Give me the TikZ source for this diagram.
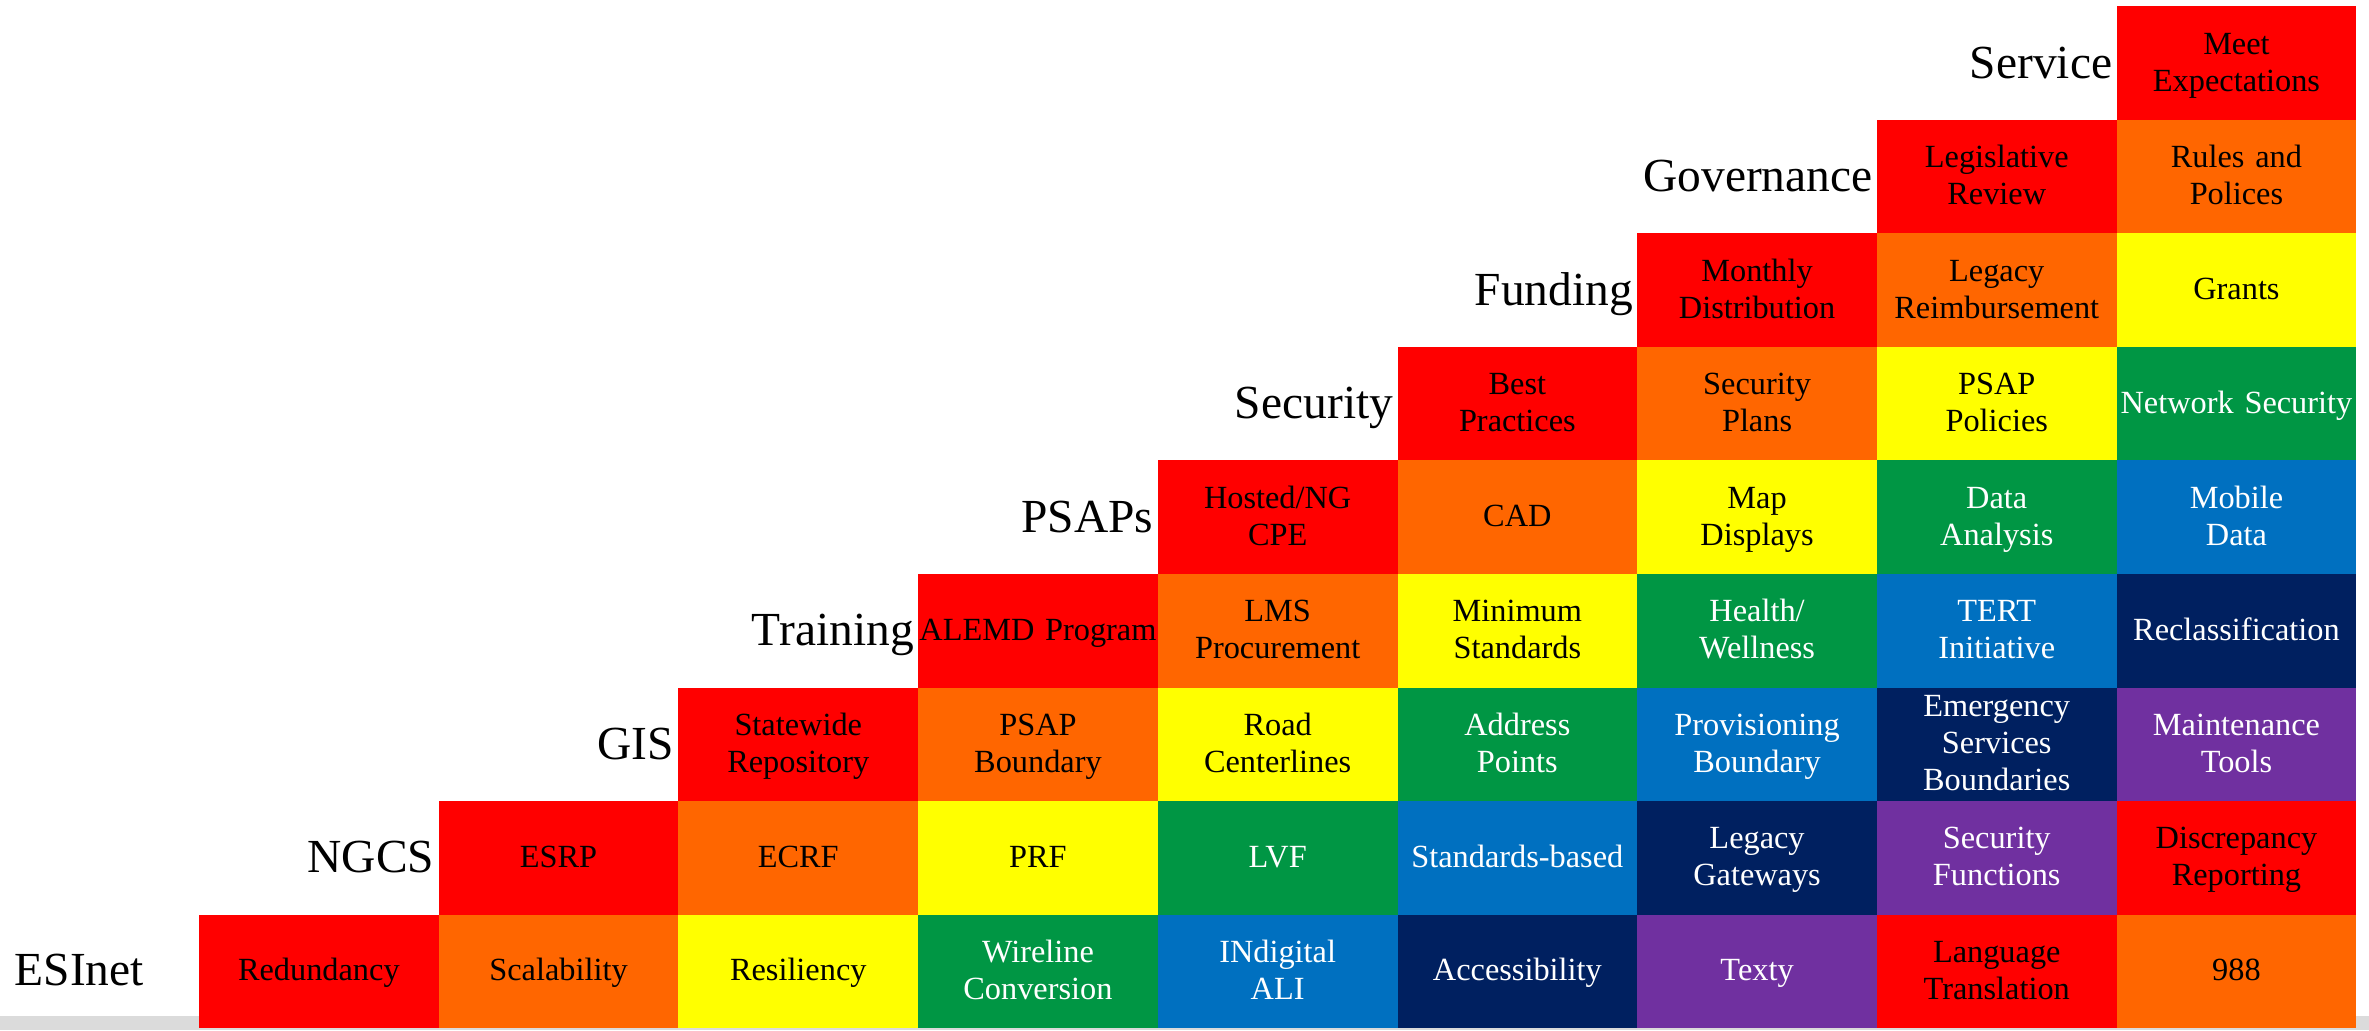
\documentclass[tikz,border=0pt]{standalone}
\usepackage{fontspec}
\setmainfont{Liberation Serif}
\usepackage{xcolor}
\usepackage{tikz}
\usetikzlibrary{calc}

\definecolor{cRed}{RGB}{255,0,0}
\definecolor{cOrange}{RGB}{255,102,0}
\definecolor{cYellow}{RGB}{255,255,0}
\definecolor{cGreen}{RGB}{0,150,68}
\definecolor{cBlue}{RGB}{0,112,192}
\definecolor{cNavy}{RGB}{0,32,96}
\definecolor{cPurple}{RGB}{112,48,160}
\definecolor{cBar}{RGB}{219,219,219}

\newcommand{\cellstrut}{\rule[-2.2pt]{0pt}{9.8pt}}

\begin{document}
\begin{tikzpicture}

		\tikzstyle{cell}     = [rectangle, minimum width=2.397cm, minimum height=1.135cm, text width=2.397cm, inner sep=0pt, align=center, font=\fontsize{9.2}{10.6}\selectfont, execute at begin node=\cellstrut, execute at end node=\cellstrut]
		\tikzstyle{red}      = [cell, fill=cRed, text=black]
		\tikzstyle{orange}   = [cell, fill=cOrange, text=black]
		\tikzstyle{yellow}   = [cell, fill=cYellow, text=black]
		\tikzstyle{green}    = [cell, fill=cGreen, text=white]
		\tikzstyle{blue}     = [cell, fill=cBlue, text=white]
		\tikzstyle{navy}     = [cell, fill=cNavy, text=white]
		\tikzstyle{purple}   = [cell, fill=cPurple, text=white]
		\tikzstyle{rowlabel} = [inner sep=0pt, anchor=base east, font=\fontsize{13.5}{16}\selectfont]
		\useasboundingbox (0,0) rectangle (23.69,10.30);
		%%Bar
		\fill [cBar] (0,0) rectangle (23.69,0.14);
		%%ESInet
		\node [red](e1) at (3.1885,0.5875) {Redundancy};
		\node [orange](e2) at ($(e1) + (2.397, 0)$) {Scalability};
		\node [yellow](e3) at ($(e2) + (2.397, 0)$) {Resiliency};
		\node [green](e4) at ($(e3) + (2.397, 0)$) {Wireline\\Conversion};
		\node [blue](e5) at ($(e4) + (2.397, 0)$) {INdigital\\ALI};
		\node [navy](e6) at ($(e5) + (2.397, 0)$) {Accessibility};
		\node [purple](e7) at ($(e6) + (2.397, 0)$) {Texty};
		\node [red](e8) at ($(e7) + (2.397, 0)$) {Language\\Translation};
		\node [orange](e9) at ($(e8) + (2.397, 0)$) {988};
		%%NGCS
		\node [red](n1) at ($(e1) + (2.397, 1.135)$) {ESRP};
		\node [orange](n2) at ($(n1) + (2.397, 0)$) {ECRF};
		\node [yellow](n3) at ($(n2) + (2.397, 0)$) {PRF};
		\node [green](n4) at ($(n3) + (2.397, 0)$) {LVF};
		\node [blue](n5) at ($(n4) + (2.397, 0)$) {Standards-based};
		\node [navy](n6) at ($(n5) + (2.397, 0)$) {Legacy\\Gateways};
		\node [purple](n7) at ($(n6) + (2.397, 0)$) {Security\\Functions};
		\node [red](n8) at ($(n7) + (2.397, 0)$) {Discrepancy\\Reporting};
		%%GIS
		\node [red](g1) at ($(n1) + (2.397, 1.135)$) {Statewide\\Repository};
		\node [orange](g2) at ($(g1) + (2.397, 0)$) {PSAP\\Boundary};
		\node [yellow](g3) at ($(g2) + (2.397, 0)$) {Road\\Centerlines};
		\node [green](g4) at ($(g3) + (2.397, 0)$) {Address\\Points};
		\node [blue](g5) at ($(g4) + (2.397, 0)$) {Provisioning\\Boundary};
		\node [navy](g6) at ($(g5) + (2.397, 0)$) {Emergency\\Services\\Boundaries};
		\node [purple](g7) at ($(g6) + (2.397, 0)$) {Maintenance\\Tools};
		%%Training
		\node [red](t1) at ($(g1) + (2.397, 1.135)$) {ALEMD Program};
		\node [orange](t2) at ($(t1) + (2.397, 0)$) {LMS\\Procurement};
		\node [yellow](t3) at ($(t2) + (2.397, 0)$) {Minimum\\Standards};
		\node [green](t4) at ($(t3) + (2.397, 0)$) {Health/\\Wellness};
		\node [blue](t5) at ($(t4) + (2.397, 0)$) {TERT\\Initiative};
		\node [navy](t6) at ($(t5) + (2.397, 0)$) {Reclassification};
		%%PSAPs
		\node [red](p1) at ($(t1) + (2.397, 1.135)$) {Hosted/NG\\CPE};
		\node [orange](p2) at ($(p1) + (2.397, 0)$) {CAD};
		\node [yellow](p3) at ($(p2) + (2.397, 0)$) {Map\\Displays};
		\node [green](p4) at ($(p3) + (2.397, 0)$) {Data\\Analysis};
		\node [blue](p5) at ($(p4) + (2.397, 0)$) {Mobile\\Data};
		%%Security
		\node [red](s1) at ($(p1) + (2.397, 1.135)$) {Best\\Practices};
		\node [orange](s2) at ($(s1) + (2.397, 0)$) {Security\\Plans};
		\node [yellow](s3) at ($(s2) + (2.397, 0)$) {PSAP\\Policies};
		\node [green](s4) at ($(s3) + (2.397, 0)$) {Network Security};
		%%Funding
		\node [red](f1) at ($(s1) + (2.397, 1.135)$) {Monthly\\Distribution};
		\node [orange](f2) at ($(f1) + (2.397, 0)$) {Legacy\\Reimbursement};
		\node [yellow](f3) at ($(f2) + (2.397, 0)$) {Grants};
		%%Governance
		\node [red](v1) at ($(f1) + (2.397, 1.135)$) {Legislative\\Review};
		\node [orange](v2) at ($(v1) + (2.397, 0)$) {Rules and\\Polices};
		%%Service
		\node [red](m1) at ($(v1) + (2.397, 1.135)$) {Meet\\Expectations};
		%%Row labels
		\node [rowlabel, anchor=base west](esinet) at (0.14,0.44) {ESInet};
		\node [rowlabel](ngcs) at ($(n1.west) + (-0.03, -0.15)$) {NGCS};
		\node [rowlabel](gis) at ($(g1.west) + (-0.03, -0.15)$) {GIS};
		\node [rowlabel](training) at ($(t1.west) + (-0.03, -0.15)$) {Training};
		\node [rowlabel](psaps) at ($(p1.west) + (-0.03, -0.15)$) {PSAPs};
		\node [rowlabel](security) at ($(s1.west) + (-0.03, -0.15)$) {Security};
		\node [rowlabel](funding) at ($(f1.west) + (-0.03, -0.15)$) {Funding};
		\node [rowlabel](governance) at ($(v1.west) + (-0.03, -0.15)$) {Governance};
		\node [rowlabel](service) at ($(m1.west) + (-0.03, -0.15)$) {Service};
	\end{tikzpicture}
\end{document}
